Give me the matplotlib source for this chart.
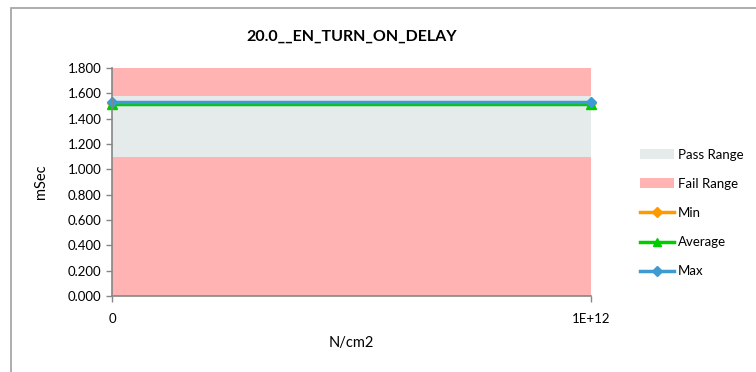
import matplotlib.pyplot as plt
from matplotlib.patches import Rectangle
from matplotlib.lines import Line2D
from matplotlib.patches import Patch

plt.rcParams['font.family'] = ['Lato', 'DejaVu Sans']

title = "20.0__EN_TURN_ON_DELAY"
x_vals = [0, 1e12]
x_labels = ["0", "1E+12"]
y_min = [1.52, 1.52]
y_avg = [1.517, 1.517]
y_max = [1.534, 1.534]
pass_lo, pass_hi = 1.10, 1.58
y_top = 1.8
y_ticks = [0.0, 0.2, 0.4, 0.6, 0.8, 1.0, 1.2, 1.4, 1.6, 1.8]

c_pass = '#E5EBEB'
c_fail = '#FFB3B3'
c_min = '#FF9900'
c_avg = '#00CC00'
c_max = '#3D9BD1'
c_axis = '#868686'

fig = plt.figure(figsize=(7.56, 3.72), dpi=100)
fig.patches.append(Rectangle((11 / 756, -0.1), 1.1, 1 - 8 / 372 + 0.1,
                             transform=fig.transFigure, fill=False,
                             edgecolor='#A0A0A0', lw=1.2))
ax = fig.add_axes([112 / 756, 1 - 296 / 372, 479 / 756, 228 / 372])

# ranges
ax.fill_between(x_vals, 0, pass_lo, color=c_fail, lw=0)
ax.fill_between(x_vals, pass_lo, pass_hi, color=c_pass, lw=0)
ax.fill_between(x_vals, pass_hi, y_top, color=c_fail, lw=0)

ax.plot(x_vals, y_min, color=c_min, lw=2.5, marker='D', ms=5.5, clip_on=False)
ax.plot(x_vals, y_avg, color=c_avg, lw=2.5, marker='^', ms=6.5, clip_on=False)
ax.plot(x_vals, y_max, color=c_max, lw=2.5, marker='D', ms=5.5, clip_on=False)

ax.set_xlim(x_vals[0], x_vals[-1])
ax.set_ylim(0, y_top)
ax.set_xticks(x_vals)
ax.set_xticklabels(x_labels)
ax.set_yticks(y_ticks)
ax.set_yticklabels([f"{v:.3f}" for v in y_ticks])
ax.tick_params(labelsize=9.5, colors=c_axis, labelcolor='black', length=4, width=1)
ax.tick_params(axis='x', pad=8)
for s in ['top', 'right']:
    ax.spines[s].set_visible(False)
for s in ['left', 'bottom']:
    ax.spines[s].set_color(c_axis)
    ax.spines[s].set_linewidth(1.2)

ax.set_title(title, fontsize=11.5, fontweight='bold', pad=20)
ax.set_xlabel("N/cm2", fontsize=10.5, labelpad=8)
ax.set_ylabel("mSec", fontsize=10.5)
ax.yaxis.set_label_coords(-0.134, 0.5)

handles = [
    Patch(facecolor=c_pass, edgecolor='none', label='Pass Range'),
    Patch(facecolor=c_fail, edgecolor='none', label='Fail Range'),
    Line2D([], [], color=c_min, lw=2.5, marker='D', ms=5, label='Min'),
    Line2D([], [], color=c_avg, lw=2.5, marker='^', ms=6, label='Average'),
    Line2D([], [], color=c_max, lw=2.5, marker='D', ms=5, label='Max'),
]
fig.legend(handles=handles, loc='upper left', bbox_to_anchor=(628 / 756, 1 - 137 / 372),
           frameon=False, fontsize=9.5, handlelength=2.6, labelspacing=1.3,
           handletextpad=0.3, handleheight=0.8)

fig.savefig('out.png', dpi=100)
